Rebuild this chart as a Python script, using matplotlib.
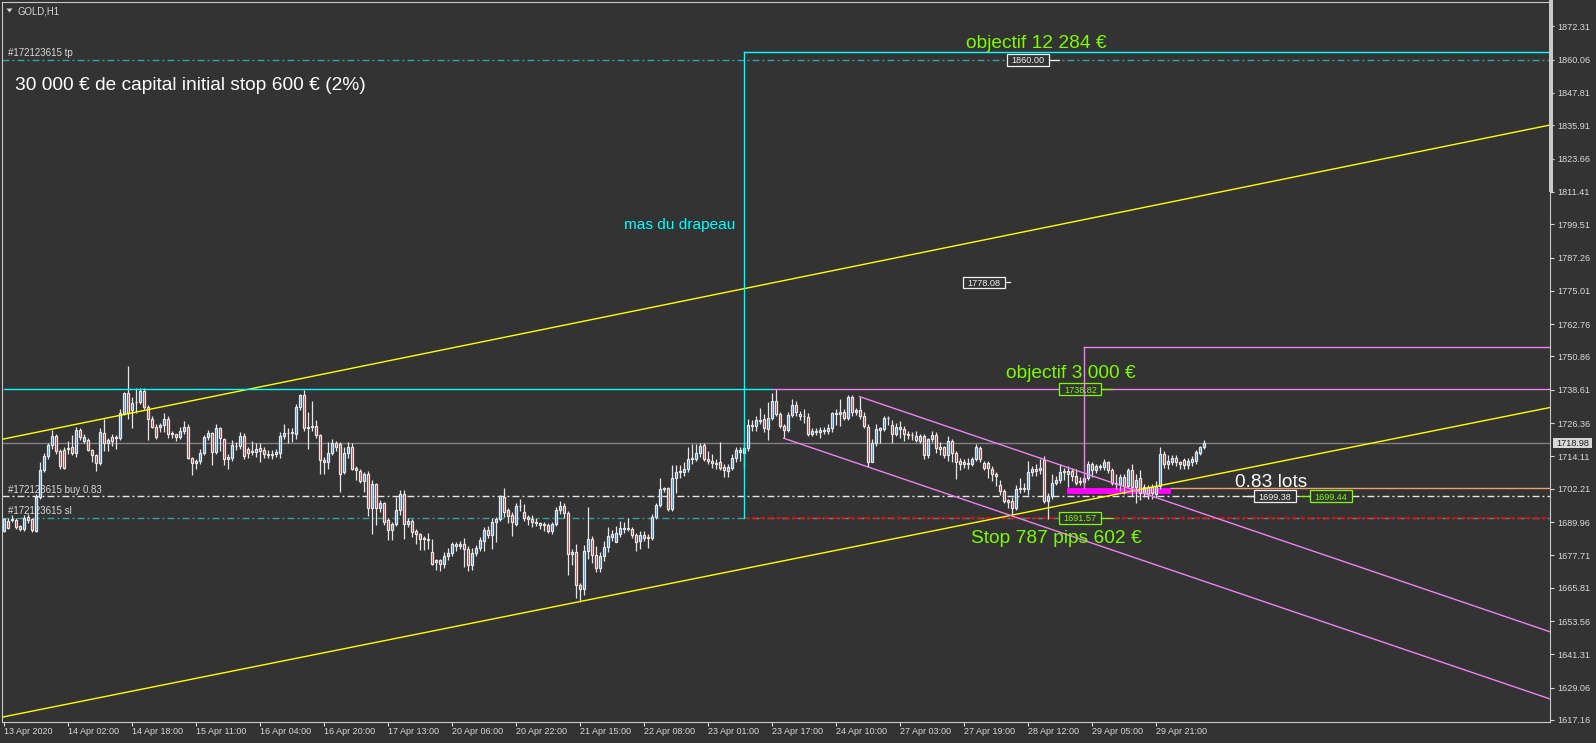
import matplotlib
matplotlib.use('Agg')
import matplotlib.pyplot as plt
from matplotlib.patches import Rectangle, Polygon
import numpy as np

plt.rcParams['font.family'] = ['Liberation Sans', 'DejaVu Sans']
plt.rcParams['lines.scale_dashes'] = False

W, H, DPI = 1596, 743, 100
BG = '#333333'
FG = '#d8d8d8'
WICK = '#e6e6e6'
BULL = '#2f8fdf'
BEAR = '#b83232'
GREEN = '#7cfc00'
CYAN = '#00ffff'
YELLOW = '#ffff00'
PINK = '#ee82ee'
MAGENTA = '#ff00ff'
TEAL = '#38a0a0'

# ---------------- data: GOLD H1 candles (bar 0 = 13 Apr 2020) ----------------
open_ = [
 1686.7,1690.4,1690.6,1690.9,1688.5,1687.3,1692.0,1691.0,1686.7,1699.3,
 1709.2,1714.1,1718.2,1721.7,1716.2,1716.6,1717.0,1717.4,1715.5,1723.9,
 1719.8,1720.2,1716.5,1714.6,1711.6,1722.7,1719.2,1721.4,1720.7,1720.7,
 1730.0,1737.4,1731.2,1734.0,1734.2,1738.0,1732.1,1727.8,1725.0,1725.1,
 1725.6,1728.0,1722.9,1722.3,1721.1,1723.3,1725.1,1713.4,1711.6,1712.5,
 1715.3,1721.3,1722.7,1715.9,1724.5,1720.5,1713.1,1713.7,1718.0,1718.0,
 1721.7,1716.8,1715.7,1715.9,1717.1,1716.5,1715.0,1714.6,1715.0,1715.3,
 1721.5,1722.9,1722.7,1722.5,1732.1,1736.8,1724.7,1724.9,1725.3,1721.9,
 1712.8,1712.1,1715.5,1718.9,1718.6,1708.2,1715.3,1717.6,1710.0,1708.8,
 1705.1,1707.8,1695.0,1703.9,1695.0,1696.9,1690.6,1687.0,1689.4,1694.3,
 1700.2,1689.4,1690.4,1686.7,1685.5,1684.2,1683.6,1679.0,1675.3,1675.9,
 1674.7,1677.5,1678.5,1681.8,1681.0,1682.0,1680.0,1674.2,1678.7,1680.3,
 1683.0,1686.9,1685.1,1689.8,1691.0,1699.0,1694.4,1692.5,1689.4,1695.9,
 1693.7,1691.9,1691.2,1690.1,1689.5,1688.8,1689.0,1686.5,1689.2,1694.4,
 1695.9,1693.2,1678.1,1679.0,1666.8,1665.2,1679.4,1683.9,1677.9,1673.0,
 1677.5,1680.9,1684.6,1682.8,1685.5,1687.4,1687.9,1687.3,1685.1,1683.0,
 1685.1,1684.1,1684.1,1692.0,1696.2,1702.0,1702.4,1694.9,1706.1,1708.5,
 1708.5,1709.4,1713.1,1713.1,1715.3,1718.4,1713.0,1712.4,1711.6,1711.9,
 1710.3,1708.8,1710.0,1713.5,1715.8,1715.2,1717.1,1725.7,1725.4,1727.6,
 1727.8,1724.1,1728.4,1734.6,1729.6,1725.4,1723.8,1729.4,1733.1,1729.6,
 1729.0,1728.6,1722.3,1723.5,1723.0,1723.9,1723.5,1724.5,1729.9,1729.6,
 1730.3,1728.4,1735.8,1730.3,1731.3,1729.0,1725.0,1712.2,1718.9,1723.9,
 1724.1,1728.4,1725.7,1722.5,1725.0,1724.1,1722.5,1722.1,1721.7,1719.9,
 1721.7,1714.7,1720.5,1722.1,1717.4,1717.4,1714.7,1719.6,1715.2,1712.5,
 1711.9,1711.4,1711.4,1713.1,1717.2,1711.7,1711.7,1709.4,1707.6,1703.6,
 1701.4,1698.0,1697.7,1695.3,1702.0,1702.4,1702.0,1708.2,1709.4,1709.2,
 1712.9,1697.7,1699.6,1704.5,1705.5,1708.2,1707.6,1708.8,1707.0,1704.8,
 1704.8,1706.2,1711.2,1709.0,1710.6,1710.2,1711.9,1709.0,1704.2,1703.9,
 1706.6,1703.3,1709.0,1702.7,1706.2,1700.8,1703.0,1702.7,1700.2,1703.3,
 1714.9,1711.5,1712.2,1713.7,1711.9,1712.7,1710.9,1712.0,1712.5,1715.3,
 1717.4]
high = [
 1691.6,1691.3,1692.5,1691.3,1689.0,1692.5,1693.0,1691.5,1700.2,1711.9,
 1715.5,1719.2,1723.9,1722.5,1717.0,1717.5,1719.8,1722.0,1725.0,1724.5,
 1722.5,1721.0,1717.0,1715.0,1724.5,1727.8,1721.0,1722.5,1722.0,1731.5,
 1737.8,1747.4,1736.0,1739.2,1739.2,1739.2,1733.0,1729.0,1726.0,1726.5,
 1730.0,1729.0,1723.5,1722.5,1725.0,1727.0,1726.0,1714.0,1713.0,1717.0,
 1722.0,1724.0,1723.0,1726.0,1725.0,1721.0,1715.0,1720.0,1719.5,1723.0,
 1722.9,1717.5,1719.8,1719.0,1719.1,1717.5,1716.5,1716.5,1717.0,1723.0,
 1725.9,1724.7,1724.5,1733.3,1737.2,1738.6,1730.5,1734.6,1727.5,1722.5,
 1714.0,1719.5,1720.5,1719.9,1719.5,1717.5,1719.5,1719.2,1710.7,1709.5,
 1708.5,1708.8,1705.5,1704.5,1698.0,1697.5,1691.5,1690.0,1699.0,1701.7,
 1701.7,1691.5,1691.0,1687.5,1686.0,1685.0,1685.8,1683.6,1676.5,1676.5,
 1679.0,1680.5,1682.5,1682.5,1683.0,1684.0,1681.0,1680.5,1681.5,1684.5,
 1688.0,1688.5,1691.5,1692.0,1700.0,1702.4,1695.0,1693.5,1697.0,1698.4,
 1696.5,1692.5,1692.5,1691.5,1690.0,1690.0,1689.5,1690.0,1695.5,1697.8,
 1697.0,1694.0,1680.0,1681.8,1667.5,1681.5,1695.4,1685.0,1681.0,1679.0,
 1683.0,1688.2,1687.0,1688.5,1690.5,1690.0,1691.6,1688.0,1686.0,1686.5,
 1686.5,1685.5,1693.0,1697.0,1706.3,1703.0,1703.0,1711.0,1711.0,1711.0,
 1712.0,1717.5,1718.6,1718.5,1719.0,1719.0,1716.0,1715.0,1713.0,1719.5,
 1711.3,1711.5,1715.0,1717.5,1717.5,1719.2,1727.8,1727.5,1729.0,1731.9,
 1729.6,1734.0,1737.6,1738.8,1730.5,1726.0,1730.5,1735.3,1734.5,1730.9,
 1731.5,1730.0,1724.5,1724.5,1725.0,1725.0,1726.0,1730.5,1731.5,1735.3,
 1731.5,1736.8,1736.8,1732.0,1736.0,1730.5,1726.0,1720.5,1725.9,1725.0,
 1729.0,1729.0,1727.5,1726.5,1727.0,1725.4,1723.5,1723.0,1723.5,1722.5,
 1722.5,1721.0,1723.4,1723.0,1719.5,1718.0,1721.7,1720.5,1716.0,1713.5,
 1713.0,1713.5,1714.0,1718.6,1718.0,1712.5,1712.5,1710.5,1708.5,1705.5,
 1702.0,1698.5,1699.0,1703.5,1706.0,1704.5,1712.5,1710.7,1711.5,1713.1,
 1714.3,1700.5,1707.6,1707.0,1711.2,1710.0,1710.5,1710.0,1709.5,1706.5,
 1707.0,1712.5,1712.0,1711.5,1711.5,1713.1,1712.5,1710.0,1707.6,1707.5,
 1707.5,1710.0,1711.5,1707.5,1709.0,1704.0,1703.5,1704.0,1705.0,1717.5,
 1716.0,1714.5,1714.5,1714.5,1712.5,1713.5,1713.5,1714.3,1716.5,1718.0,
 1720.0]
low = [
 1686.2,1687.3,1689.8,1687.5,1686.5,1686.5,1689.5,1686.3,1686.2,1698.5,
 1708.5,1713.0,1717.0,1715.0,1709.5,1709.5,1715.0,1714.5,1714.0,1720.0,
 1719.0,1716.0,1712.0,1708.8,1711.0,1716.0,1716.0,1718.0,1717.0,1720.0,
 1729.5,1728.0,1724.7,1730.0,1733.5,1731.5,1720.1,1724.5,1720.5,1723.0,
 1723.0,1721.0,1721.0,1719.8,1720.5,1722.5,1713.0,1707.3,1709.5,1711.5,
 1714.5,1720.0,1711.0,1715.0,1716.0,1711.0,1709.5,1712.5,1716.5,1717.0,
 1713.0,1713.5,1714.5,1714.0,1711.9,1713.5,1713.5,1713.0,1714.0,1713.7,
 1720.5,1719.2,1719.3,1720.5,1731.0,1723.5,1717.0,1723.5,1721.0,1707.8,
 1707.8,1709.5,1714.5,1716.0,1701.2,1707.5,1713.5,1709.0,1705.5,1704.5,
 1701.2,1692.2,1685.5,1688.9,1693.5,1689.0,1683.2,1683.2,1688.5,1692.5,
 1683.8,1688.0,1684.6,1682.0,1679.8,1679.6,1680.0,1674.0,1672.5,1672.0,
 1673.0,1676.0,1677.5,1679.5,1680.0,1673.5,1672.0,1672.5,1677.5,1679.5,
 1679.5,1684.0,1680.2,1682.5,1690.4,1692.0,1689.5,1685.0,1688.5,1694.0,
 1690.5,1689.0,1688.0,1688.5,1687.5,1686.5,1686.0,1685.5,1688.5,1693.0,
 1691.5,1670.4,1674.2,1662.0,1660.5,1663.0,1676.5,1675.0,1671.5,1671.5,
 1675.5,1679.0,1683.0,1682.5,1684.5,1686.0,1686.5,1684.0,1679.5,1680.0,
 1683.0,1680.6,1683.5,1691.0,1695.5,1701.0,1694.0,1694.0,1700.5,1706.0,
 1707.0,1708.5,1711.5,1712.5,1714.0,1712.5,1711.5,1710.0,1709.5,1709.0,
 1706.5,1706.5,1709.0,1712.0,1712.5,1710.0,1716.0,1723.5,1723.5,1726.0,
 1723.0,1720.0,1727.5,1729.0,1724.5,1720.8,1723.0,1728.5,1729.0,1727.5,
 1726.5,1721.5,1721.5,1722.0,1720.8,1722.5,1722.5,1723.0,1725.5,1725.4,
 1727.5,1727.5,1729.0,1729.5,1728.0,1724.5,1710.3,1712.0,1718.0,1719.0,
 1723.5,1725.5,1719.2,1721.5,1721.0,1719.8,1720.5,1720.0,1719.5,1719.0,
 1713.2,1713.5,1719.5,1715.5,1714.5,1713.5,1712.5,1712.0,1705.7,1709.0,
 1710.0,1709.5,1710.5,1712.5,1712.0,1709.0,1706.3,1705.0,1703.3,1700.0,
 1697.0,1695.3,1692.2,1694.5,1700.5,1701.0,1700.0,1707.0,1707.0,1707.5,
 1697.1,1691.0,1698.5,1703.5,1704.5,1705.5,1702.7,1705.0,1703.5,1703.5,
 1703.5,1705.5,1706.5,1708.0,1709.0,1709.0,1708.0,1703.5,1702.0,1701.5,
 1700.2,1702.5,1699.5,1697.0,1698.0,1699.0,1698.5,1698.5,1699.0,1702.0,
 1710.0,1709.5,1711.0,1710.5,1709.5,1709.5,1709.5,1710.5,1711.5,1714.5,
 1716.8]
close = [
 1691.0,1687.9,1691.0,1688.2,1687.3,1691.6,1690.6,1687.1,1699.3,1709.2,
 1714.1,1718.2,1721.7,1716.2,1710.4,1710.0,1717.3,1715.5,1723.9,1721.1,
 1721.4,1716.5,1714.6,1711.6,1723.1,1719.2,1720.2,1719.8,1721.4,1730.0,
 1737.4,1730.0,1733.9,1734.2,1738.0,1732.1,1727.8,1725.0,1721.4,1725.7,
 1727.8,1722.3,1722.5,1721.1,1723.3,1725.1,1713.4,1711.6,1712.5,1715.3,
 1721.3,1722.7,1715.9,1724.5,1720.8,1713.1,1714.0,1718.2,1717.8,1721.7,
 1714.1,1715.3,1716.1,1716.8,1716.1,1714.9,1714.6,1715.0,1715.6,1721.7,
 1722.9,1722.7,1723.0,1732.1,1736.8,1724.7,1724.9,1725.3,1721.9,1712.7,
 1712.1,1715.5,1718.9,1717.4,1707.8,1715.5,1717.6,1709.6,1709.0,1705.1,
 1707.8,1695.0,1703.9,1695.0,1696.9,1690.1,1687.0,1689.4,1694.3,1700.2,
 1689.4,1690.4,1686.3,1685.5,1683.6,1683.6,1683.2,1674.7,1676.0,1674.7,
 1677.5,1678.7,1681.8,1681.0,1682.0,1680.0,1674.2,1678.7,1680.3,1683.2,
 1686.9,1685.1,1689.8,1691.0,1699.4,1693.8,1692.2,1689.8,1695.7,1695.7,
 1691.6,1691.0,1689.8,1689.5,1688.8,1689.3,1686.5,1689.2,1694.4,1695.9,
 1693.2,1678.1,1679.0,1666.7,1665.2,1679.4,1683.9,1677.9,1673.2,1677.5,
 1680.9,1684.9,1685.5,1685.9,1687.7,1687.9,1687.5,1685.1,1682.8,1685.1,
 1684.1,1684.6,1692.0,1696.2,1702.0,1702.4,1694.9,1706.1,1708.5,1708.8,
 1709.4,1713.1,1713.5,1715.3,1717.8,1713.1,1712.4,1711.6,1711.5,1710.0,
 1709.0,1710.3,1713.5,1716.5,1716.4,1717.1,1725.7,1725.2,1727.6,1727.2,
 1724.5,1728.4,1734.6,1729.6,1725.4,1723.8,1729.4,1733.1,1730.3,1729.0,
 1728.8,1722.3,1723.5,1723.0,1723.9,1723.5,1724.7,1729.9,1729.6,1730.3,
 1728.4,1735.8,1730.3,1731.3,1728.8,1725.4,1712.2,1718.9,1724.1,1724.5,
 1728.4,1728.2,1722.5,1725.0,1724.1,1722.3,1722.0,1721.9,1720.1,1721.7,
 1714.7,1720.5,1722.1,1717.1,1717.0,1714.7,1719.6,1715.2,1712.2,1711.2,
 1711.4,1711.7,1713.1,1717.4,1713.1,1710.0,1710.0,1707.6,1707.0,1701.4,
 1697.7,1697.4,1695.3,1702.0,1702.4,1702.0,1708.2,1709.4,1708.8,1710.0,
 1697.7,1699.6,1704.5,1705.5,1708.2,1708.6,1708.8,1707.0,1704.5,1705.2,
 1706.2,1711.2,1709.0,1710.6,1710.2,1711.9,1709.0,1704.2,1703.9,1706.6,
 1703.3,1709.0,1702.7,1705.5,1700.8,1703.0,1700.2,1700.8,1703.3,1714.9,
 1711.2,1712.5,1713.7,1711.9,1711.4,1710.9,1712.5,1713.1,1715.6,1717.6,
 1718.98]

time_labels = ['13 Apr 2020', '14 Apr 02:00', '14 Apr 18:00', '15 Apr 11:00',
               '16 Apr 04:00', '16 Apr 20:00', '17 Apr 13:00', '20 Apr 06:00',
               '20 Apr 22:00', '21 Apr 15:00', '22 Apr 08:00', '23 Apr 01:00',
               '23 Apr 17:00', '24 Apr 10:00', '27 Apr 03:00', '27 Apr 19:00',
               '28 Apr 12:00', '29 Apr 05:00', '29 Apr 21:00']
time_label_bars = [0, 16, 32, 48, 64, 80, 96, 112, 128, 144, 160, 176,
                   192, 208, 224, 240, 256, 272, 288]
price_ticks = [1872.31, 1860.06, 1847.81, 1835.91, 1823.66, 1811.41, 1799.51,
               1787.26, 1775.01, 1762.76, 1750.86, 1738.61, 1726.36, 1714.11,
               1702.21, 1689.96, 1677.71, 1665.81, 1653.56, 1641.31, 1629.06,
               1617.16]

tp_price = 1860.06
buy_price = 1699.38
sl_price = 1691.57
bid_price = 1718.98
obj_price = 1738.82
order_id = '#172123615'

# trendline anchors (bar index, price)
yellow_upper = [(-0.4, 1720.4), (386.6, 1836.0)]
yellow_lower = [(-0.4, 1618.2), (386.6, 1732.1)]
flag_upper = [(214, 1736.1), (386.6, 1649.6)]
flag_lower = [(195, 1720.8), (386.6, 1624.9)]
pole_bar, pole_low, pole_high = 185, 1691.57, 1862.7
target_bar, target_low, target_high = 270, 1702.6, 1754.5
cyan_level_end_bar = 192
flag_zone = (265.9, 291.9, 1700.2, 1702.6)   # bar from, bar to, price low, price high
entry_zone_price = 1702.5

# ---------------- figure ----------------
XMIN, XMAX = -0.4, 386.6
YMIN, YMAX = 1616.42, 1881.25

fig = plt.figure(figsize=(W / DPI, H / DPI), dpi=DPI, facecolor=BG)
ax = fig.add_axes([2 / W, (H - 722) / H, (1550 - 2) / W, (722 - 2) / H])
ax.set_facecolor(BG)
ax.set_xlim(XMIN, XMAX)
ax.set_ylim(YMIN, YMAX)

for s in ax.spines.values():
    s.set_color('#c8c8c8')
    s.set_linewidth(0.8)

# ticks
ax.yaxis.tick_right()
ax.set_yticks(price_ticks)
ax.set_yticklabels([f'{p:.2f}' for p in price_ticks])
ax.set_xticks(time_label_bars)
ax.set_xticklabels(time_labels)
ax.tick_params(axis='y', colors=FG, labelsize=6.6, length=2.9, width=0.8, pad=2.2,
               direction='out')
ax.tick_params(axis='x', colors=FG, labelsize=6.5, length=2.9, width=0.8, pad=1.0,
               direction='out')
for lbl in ax.get_xticklabels():
    lbl.set_ha('left')

DASHDOT = (0, (5.0, 2.2, 1.4, 2.2))

# horizontal order lines
ax.axhline(bid_price, color='#808080', lw=1.0, zorder=2)
ax.axhline(tp_price, color=TEAL, lw=1.0, ls=DASHDOT, zorder=2)
ax.axhline(sl_price, color=TEAL, lw=1.0, ls=DASHDOT, zorder=2)
ax.axhline(buy_price, color='#e6e6e6', lw=1.0, ls=DASHDOT, zorder=2)
ax.plot([pole_bar, XMAX], [sl_price, sl_price], color='#ff0000', lw=1.2,
        ls=(0, (3.6, 2.2)), zorder=3)

lbl_kw = dict(fontsize=7.0, color=FG, va='bottom', ha='left',
              textcoords='offset points', xytext=(0, 1.3), zorder=3)
ax.annotate(f'{order_id} tp', xy=(1.1, tp_price), **lbl_kw)
ax.annotate(f'{order_id} buy 0.83', xy=(1.1, buy_price), **lbl_kw)
ax.annotate(f'{order_id} sl', xy=(1.1, sl_price), **lbl_kw)

# flag zone
fz = flag_zone
ax.add_patch(Rectangle((fz[0], fz[2]), fz[1] - fz[0], fz[3] - fz[2],
                       facecolor=MAGENTA, edgecolor='none', zorder=3))
ax.plot([fz[1], XMAX], [entry_zone_price, entry_zone_price], color='#f0a070',
        lw=1.0, zorder=3)

# candles
idx = np.arange(len(close))
o = np.array(open_); c = np.array(close); h = np.array(high); l = np.array(low)
up = c >= o
ax.vlines(idx, l, h, color=WICK, lw=0.9, zorder=4)
bot = np.minimum(o, c); hgt = np.abs(c - o)
ax.bar(idx[up], hgt[up], bottom=bot[up], width=0.5, color=BULL, edgecolor=WICK,
       linewidth=0.9, zorder=5)
ax.bar(idx[~up], hgt[~up], bottom=bot[~up], width=0.5, color=BEAR, edgecolor=WICK,
       linewidth=0.9, zorder=5)

# trendlines
for line, col in [(yellow_upper, YELLOW), (yellow_lower, YELLOW),
                  (flag_upper, PINK), (flag_lower, PINK)]:
    xs, ys = zip(*line)
    ax.plot(xs, ys, color=col, lw=1.0, zorder=6)

# flag pole and target
ax.plot([XMIN + 0.4, cyan_level_end_bar], [obj_price, obj_price], color=CYAN, lw=1.0, zorder=6)
ax.plot([cyan_level_end_bar, XMAX], [obj_price, obj_price], color=PINK, lw=1.0, zorder=6)
ax.plot([pole_bar, pole_bar], [pole_low, pole_high], color=CYAN, lw=1.0, zorder=6)
ax.plot([pole_bar, XMAX], [pole_high, pole_high], color=CYAN, lw=1.0, zorder=6)
ax.plot([target_bar, target_bar], [target_low, target_high], color=PINK, lw=1.0, zorder=9)
ax.plot([target_bar, XMAX], [target_high, target_high], color=PINK, lw=1.0, zorder=6)

# price label boxes
BOX_W = 10.5
BOX_H = 4.4


def price_box(xc, price, text, color, tail):
    ax.add_patch(Rectangle((xc - BOX_W / 2, price - BOX_H / 2), BOX_W, BOX_H,
                           facecolor=BG, edgecolor=color, lw=0.9, zorder=8))
    ax.text(xc, price, text, color=color, fontsize=6.6, ha='center',
            va='center_baseline', zorder=8.5)
    if tail > 0:
        ax.plot([xc + BOX_W / 2, xc + BOX_W / 2 + tail], [price, price],
                color=color, lw=0.9, zorder=8)
    else:
        ax.plot([xc - BOX_W / 2 + tail, xc - BOX_W / 2], [price, price],
                color=color, lw=0.9, zorder=8)


price_box(256.2, tp_price, '1860.00', '#f0f0f0', 2.5)
price_box(245.1, 1778.08, '1778.08', '#f0f0f0', 1.3)
price_box(317.85, buy_price, '1699.38', '#f0f0f0', -2.7)
price_box(331.85, 1699.44, '1699.44', GREEN, -2.7)
price_box(269.2, obj_price, '1738.82', GREEN, 2.6)
price_box(269.2, sl_price, '1691.57', GREEN, 2.6)

# annotations
big = dict(fontsize=13.8, ha='center', va='baseline', zorder=10)
ax.text(258.1, 1864.5, 'objectif 12 284 €', color=GREEN, **big)
ax.text(266.7, 1743.1, 'objectif 3 000 €', color=GREEN, **big)
ax.text(263.1, 1682.1, 'Stop 787 pips 602 €', color=GREEN, **big)
ax.text(316.9, 1703.0, '0.83 lots', color='#ffffff', **big)
ax.text(169.0, 1797.6, 'mas du drapeau', color=CYAN, fontsize=11.1,
        ha='center', va='baseline', zorder=10)

# figure-level decorations (pixel placed)
def fx(x):
    return x / W


def fy(y):
    return 1 - y / H


fig.text(fx(15), fy(90), '30 000 € de capital initial stop 600 € (2%)', color='#ffffff',
         fontsize=13.8, va='baseline', ha='left')
fig.text(fx(17), fy(14), 'GOLD,H1', color=FG, fontsize=6.9, va='baseline', ha='left')
fig.patches.append(Polygon([(fx(6.5), fy(8.5)), (fx(12.5), fy(8.5)), (fx(9.5), fy(12.5))],
                           closed=True, transform=fig.transFigure, facecolor=FG,
                           edgecolor='none'))
fig.patches.append(Rectangle((fx(1548.5), fy(192)), 4 / W, 192 / H,
                             transform=fig.transFigure, facecolor='#c8c8c8',
                             edgecolor='none'))
fig.patches.append(Rectangle((fx(1553), fy(448)), 39 / W, 10.5 / H,
                             transform=fig.transFigure, facecolor='#d8d8d8',
                             edgecolor='none', zorder=5))
fig.text(fx(1572.5), fy(442.8), f'{bid_price:.2f}', color='#202020', fontsize=6.6,
         ha='center', va='center_baseline', zorder=6)

fig.savefig('out.png', dpi=DPI, facecolor=BG)
